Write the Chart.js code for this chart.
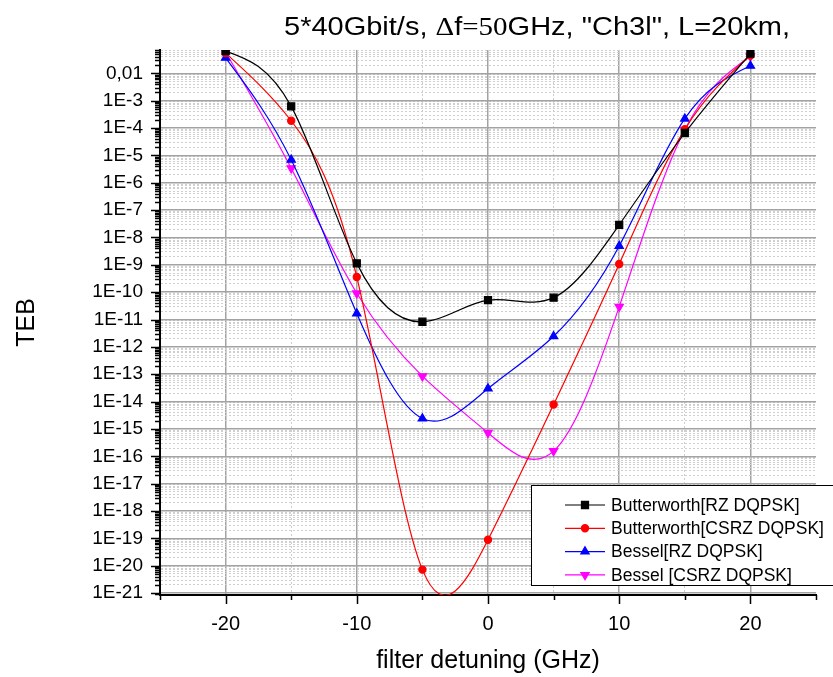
<!DOCTYPE html>
<html lang="pt">
<head>
    <meta charset="UTF-8">
    <title>TEB x filter detuning</title>
    <script src="https://cdn.jsdelivr.net/npm/chart.js@4"></script>
    <style>
        body { margin: 0; background: #fff; }
    </style>
</head>
<body>
    <canvas id="chartTeb" width="833" height="677"></canvas>
<script>
    // detuning (GHz)
    const detuning = [-20, -15, -10, -5, 0, 5, 10, 15, 20];

    // TEB per series
    const butterworthRZ = [0.065, 6.2e-4, 1.13e-9, 8.3e-12, 5.1e-11, 6.3e-11, 2.9e-8, 6.6e-5, 0.053];
    const butterworthCSRZ = [0.055, 1.85e-4, 3.6e-10, 7.2e-21, 8.9e-20, 7.8e-15, 1.07e-9, 9.0e-5, 0.045];
    const besselRZ = [0.037, 6.9e-6, 1.65e-11, 2.4e-15, 3.0e-14, 2.45e-12, 4.9e-9, 2.2e-4, 0.019];
    const besselCSRZ = [0.059, 3.4e-6, 9.1e-11, 8.5e-14, 7.2e-16, 1.55e-16, 2.95e-11, 8.7e-5, 0.042];

    const seriesNames = ['Butterworth[RZ DQPSK]', 'Butterworth[CSRZ DQPSK]', 'Bessel[RZ DQPSK]', 'Bessel [CSRZ DQPSK]'];

    // ticks
    const xTickValues = [-25, -20, -15, -10, -5, 0, 5, 10, 15, 20, 25];
    const xTickLabels = ['', '-20', '', '-10', '', '0', '', '10', '', '20', ''];
    const yTickExponents = [-21, -20, -19, -18, -17, -16, -15, -14, -13, -12, -11, -10, -9, -8, -7, -6, -5, -4, -3, -2];
    const yTickLabels = ['1E-21', '1E-20', '1E-19', '1E-18', '1E-17', '1E-16', '1E-15', '1E-14', '1E-13', '1E-12',
        '1E-11', '1E-10', '1E-9', '1E-8', '1E-7', '1E-6', '1E-5', '1E-4', '1E-3', '0,01'];

    const xTitle = 'filter detuning (GHz)';
    const yTitle = 'TEB';

    const yMin = 8.5e-22;
    const yMax = 0.0714;
    const sansFont = '"Liberation Sans", Arial, sans-serif';
    const serifFont = '"Liberation Serif", "Times New Roman", serif';

    function points(values) {
        return detuning.map((x, i) => ({ x: x, y: values[i] }));
    }

    function yTickLabel(value) {
        const e = Math.round(Math.log10(value));
        const i = yTickExponents.indexOf(e);
        if (i < 0 || Math.abs(value - Math.pow(10, e)) > Math.pow(10, e) * 1e-6) return '';
        return yTickLabels[i];
    }

    const gridMajor = '#a3a3a3';
    const gridMinor = '#cfcfcf';

    // natural cubic spline through the pixel positions the line element already has
    const splinePlugin = {
        id: 'naturalSpline',
        beforeDatasetDraw(chart, args) {
            const meta = args.meta;
            meta.dataset.updateControlPoints(chart.chartArea, 'x');
            const pts = meta.data;
            const n = pts.length;
            if (n < 3) return;
            const a = [], b = [], c = [], d = [];
            for (let i = 0; i < n; i++) {
                if (i === 0) {
                    const h = pts[1].x - pts[0].x;
                    a.push(0); b.push(2 / h); c.push(1 / h);
                    d.push(3 * (pts[1].y - pts[0].y) / (h * h));
                } else if (i === n - 1) {
                    const h = pts[i].x - pts[i - 1].x;
                    a.push(1 / h); b.push(2 / h); c.push(0);
                    d.push(3 * (pts[i].y - pts[i - 1].y) / (h * h));
                } else {
                    const h0 = pts[i].x - pts[i - 1].x;
                    const h1 = pts[i + 1].x - pts[i].x;
                    a.push(1 / h0); b.push(2 / h0 + 2 / h1); c.push(1 / h1);
                    d.push(3 * (pts[i].y - pts[i - 1].y) / (h0 * h0) + 3 * (pts[i + 1].y - pts[i].y) / (h1 * h1));
                }
            }
            // thomas algorithm
            for (let i = 1; i < n; i++) {
                const w = a[i] / b[i - 1];
                b[i] -= w * c[i - 1];
                d[i] -= w * d[i - 1];
            }
            const m = new Array(n);
            m[n - 1] = d[n - 1] / b[n - 1];
            for (let i = n - 2; i >= 0; i--) {
                m[i] = (d[i] - c[i] * m[i + 1]) / b[i];
            }
            for (let i = 0; i < n - 1; i++) {
                const h = pts[i + 1].x - pts[i].x;
                pts[i].cp2x = pts[i].x + h / 3;
                pts[i].cp2y = pts[i].y + m[i] * h / 3;
                pts[i + 1].cp1x = pts[i + 1].x - h / 3;
                pts[i + 1].cp1y = pts[i + 1].y - m[i + 1] * h / 3;
            }
        }
    };

    // texts, tick marks and the legend box drawn over the chart
    const decorPlugin = {
        id: 'decor',
        afterDraw(chart) {
            const ctx = chart.ctx;
            const xs = chart.scales.x;
            const ys = chart.scales.y;
            ctx.save();

            // tick marks
            ctx.strokeStyle = '#000';
            ctx.lineWidth = 1.5;
            ctx.beginPath();
            ys.ticks.forEach(t => {
                const py = Math.round(ys.getPixelForValue(t.value)) + 0.5;
                const len = t.major ? 9 : 5;
                ctx.moveTo(ys.right, py);
                ctx.lineTo(ys.right - len, py);
            });
            xs.ticks.forEach(t => {
                const px = Math.round(xs.getPixelForValue(t.value)) + 0.5;
                const len = t.major ? 9 : 5;
                ctx.moveTo(px, xs.top);
                ctx.lineTo(px, xs.top + len);
            });
            ctx.stroke();

            // title
            ctx.fillStyle = '#000';
            ctx.textBaseline = 'alphabetic';
            ctx.textAlign = 'left';
            const parts = [
                ['5*40Gbit/s, ', sansFont],
                ['\u0394', serifFont],
                ['f', sansFont],
                ['=50', serifFont],
                ['GHz, "Ch3l", L=20km,', sansFont]
            ];
            ctx.save();
            ctx.translate(284, 35);
            ctx.scale(1.16, 1);
            let tx = 0;
            parts.forEach(p => {
                ctx.font = '25px ' + p[1];
                ctx.fillText(p[0], tx, 0);
                tx += ctx.measureText(p[0]).width;
            });
            ctx.restore();

            // axis titles
            ctx.font = '25px ' + sansFont;
            ctx.textAlign = 'center';
            ctx.fillText(xTitle, (xs.left + xs.right) / 2, 668);
            ctx.save();
            ctx.translate(34, (ys.top + ys.bottom) / 2);
            ctx.rotate(-Math.PI / 2);
            ctx.fillText(yTitle, 0, 0);
            ctx.restore();

            // legend
            const bx = 531, by = 485, bw = 320, bh = 100;
            ctx.fillStyle = '#fff';
            ctx.fillRect(bx, by, bw, bh);
            ctx.strokeStyle = '#000';
            ctx.lineWidth = 1;
            ctx.strokeRect(bx + 0.5, by + 0.5, bw, bh);
            ctx.font = '17.5px ' + sansFont;
            ctx.textAlign = 'left';
            ctx.textBaseline = 'middle';
            chart.data.datasets.forEach((ds, i) => {
                const ly = 505 + i * 23.3;
                ctx.strokeStyle = ds.borderColor;
                ctx.lineWidth = ds.borderWidth;
                ctx.beginPath();
                ctx.moveTo(565, ly);
                ctx.lineTo(605, ly);
                ctx.stroke();
                ctx.fillStyle = ds.pointBackgroundColor;
                Chart.helpers.drawPoint(ctx, {
                    pointStyle: ds.pointStyle,
                    rotation: ds.pointRotation || 0,
                    radius: ds.pointRadius,
                    borderWidth: 1
                }, 585, ly);
                ctx.fillStyle = '#000';
                ctx.fillText(ds.label, 611, ly + 1);
            });
            ctx.restore();
        }
    };

    function makeDataset(label, values, color, style, radius, rotation) {
        return {
            label: label,
            data: points(values),
            borderColor: color,
            backgroundColor: color,
            pointBackgroundColor: color,
            pointBorderColor: color,
            borderWidth: 1.2,
            pointStyle: style,
            pointRadius: radius,
            pointRotation: rotation,
            pointHoverRadius: radius,
            tension: 0.4,
            capBezierPoints: false
        };
    }

    const chartData = {
        datasets: [
            makeDataset(seriesNames[0], butterworthRZ, '#000000', 'rect', 5, 0),
            makeDataset(seriesNames[1], butterworthCSRZ, '#ff0000', 'circle', 3.6, 0),
            makeDataset(seriesNames[2], besselRZ, '#0000ff', 'triangle', 4.8, 0),
            makeDataset(seriesNames[3], besselCSRZ, '#ff00ff', 'triangle', 4.8, 180)
        ]
    };

    const chartConfig = {
        type: 'line',
        data: chartData,
        options: {
            responsive: false,
            devicePixelRatio: 1,
            animation: false,
            layout: { padding: { top: 50, right: 14, left: 0, bottom: 0 } },
            plugins: {
                legend: { display: false },
                title: { display: false },
                tooltip: { enabled: false }
            },
            scales: {
                x: {
                    type: 'linear',
                    min: -25,
                    max: 25,
                    afterBuildTicks: s => {
                        s.ticks = xTickValues.map(v => ({ value: v, major: v % 10 === 0 }));
                    },
                    afterFit: s => { s.height = 82; },
                    ticks: {
                        autoSkip: false,
                        maxRotation: 0,
                        padding: 17,
                        color: '#000',
                        font: { family: sansFont, size: 20 },
                        callback: (v) => xTickLabels[xTickValues.indexOf(v)] || ''
                    },
                    grid: {
                        drawTicks: false,
                        color: c => (!c.tick || Math.abs(c.tick.value) === 25) ? 'rgba(0,0,0,0)' : (c.tick.major ? gridMajor : gridMinor),
                        lineWidth: c => (c.tick && c.tick.major) ? 1.5 : 1
                    },
                    border: {
                        color: '#000',
                        width: 2,
                        dash: c => (c.tick && !c.tick.major) ? [2, 2] : []
                    }
                },
                y: {
                    type: 'logarithmic',
                    min: yMin,
                    max: yMax,
                    afterBuildTicks: s => {
                        const list = [];
                        for (let e = -22; e <= -1; e++) {
                            for (let m = 1; m <= 9; m++) {
                                const v = Number(m + 'e' + e);
                                if (v >= yMin && v <= yMax) list.push({ value: v, major: m === 1 });
                            }
                        }
                        s.ticks = list;
                    },
                    afterFit: s => { s.width = 160; },
                    ticks: {
                        autoSkip: false,
                        padding: 17,
                        color: '#000',
                        font: { family: sansFont, size: 19 },
                        callback: (v) => yTickLabel(v)
                    },
                    grid: {
                        drawTicks: false,
                        color: c => (c.tick && c.tick.major) ? gridMajor : gridMinor,
                        lineWidth: c => (c.tick && c.tick.major) ? 1.5 : 1
                    },
                    border: {
                        color: '#000',
                        width: 2,
                        dash: c => (c.tick && !c.tick.major) ? [2, 2] : []
                    }
                }
            }
        },
        plugins: [splinePlugin, decorPlugin]
    };

    const tebChart = new Chart(document.getElementById('chartTeb'), chartConfig);
</script>
</body>
</html>
